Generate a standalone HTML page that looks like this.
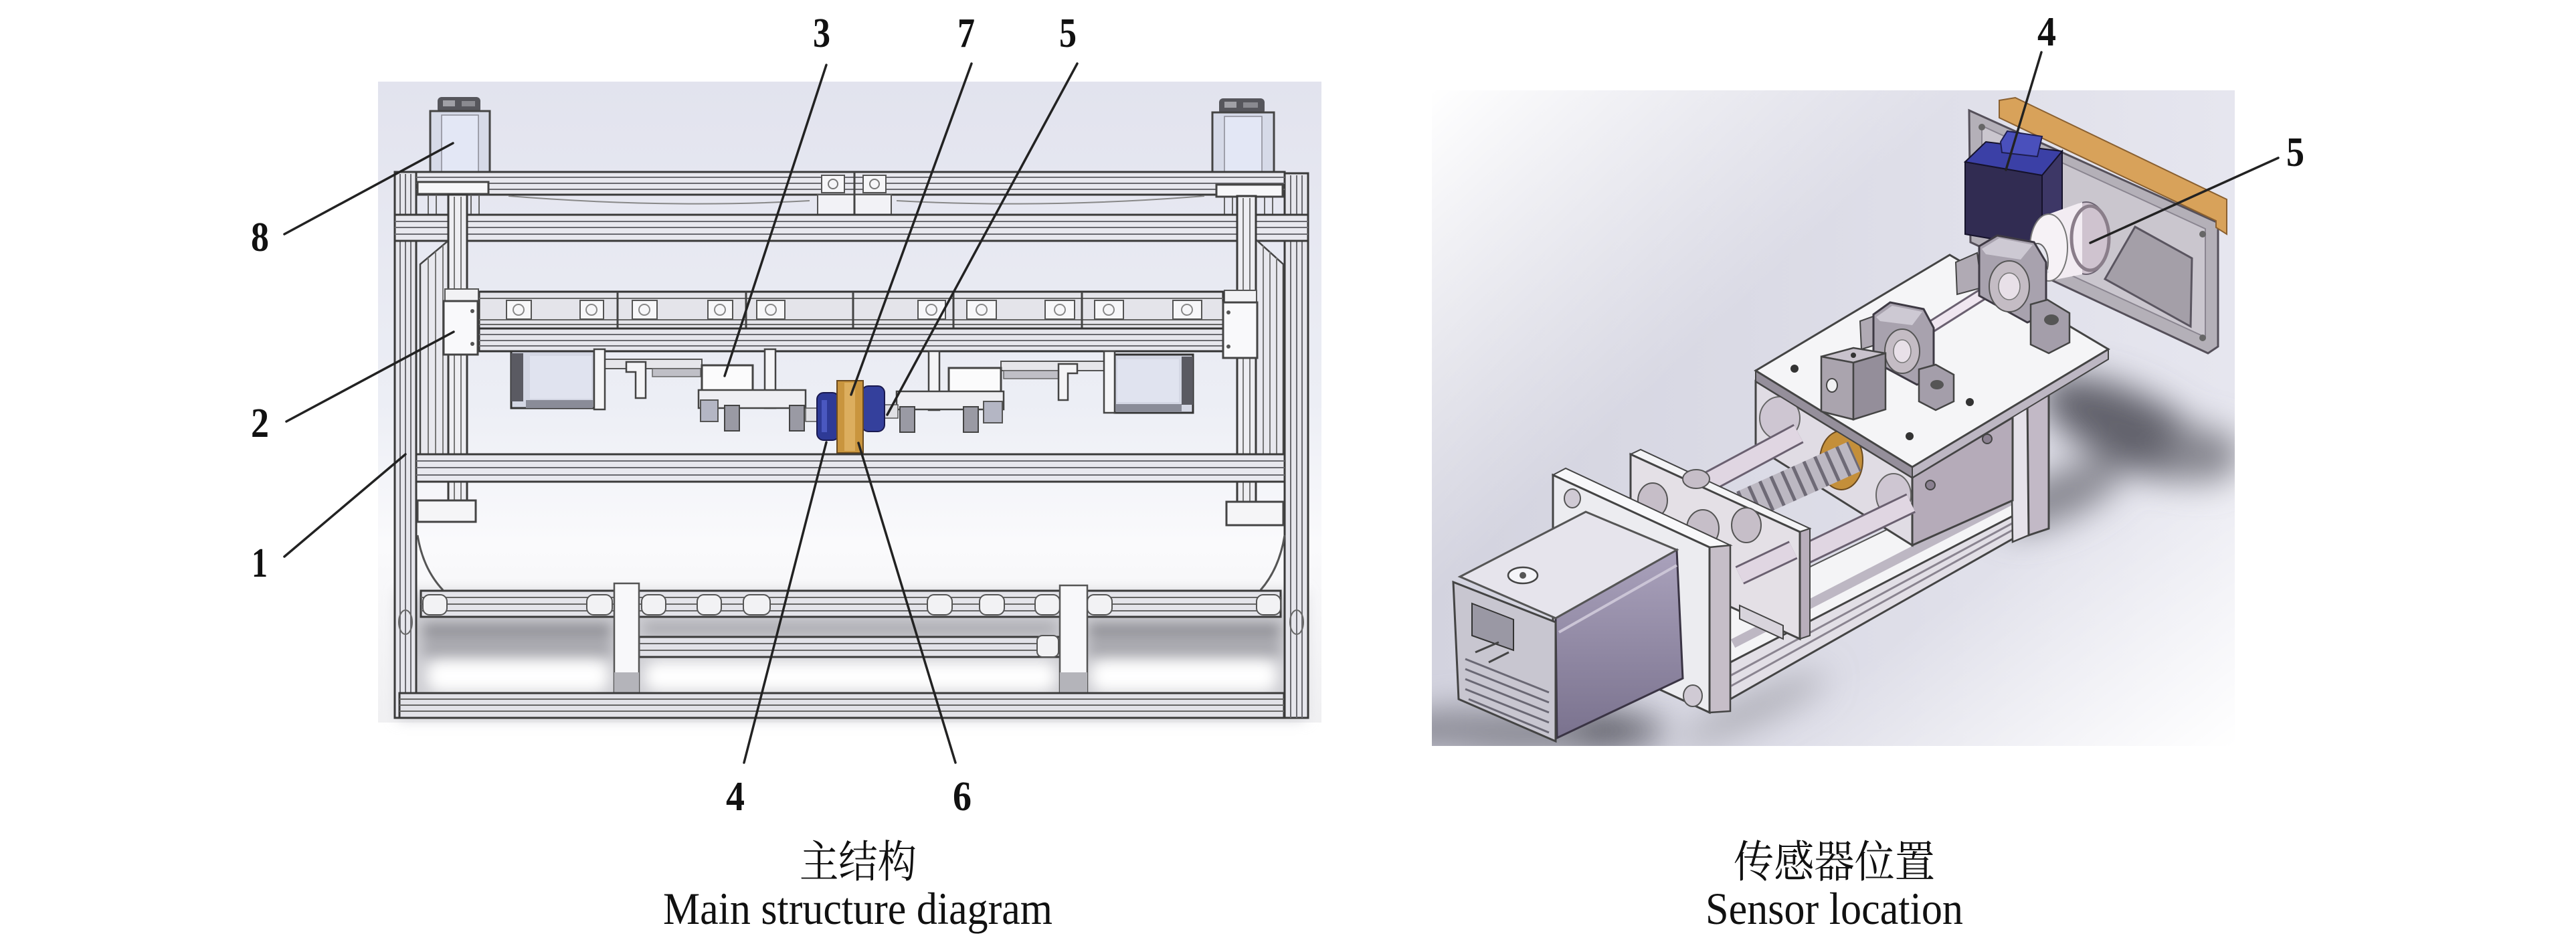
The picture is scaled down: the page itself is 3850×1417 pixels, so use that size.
<!DOCTYPE html>
<html><head><meta charset="utf-8"><style>html,body{margin:0;padding:0;background:#fff}svg{display:block}</style></head>
<body>
<svg xmlns="http://www.w3.org/2000/svg" width="3850" height="1417" viewBox="0 0 3850 1417">
<defs>
<linearGradient id="lbg" x1="0" y1="0" x2="0" y2="1">
<stop offset="0" stop-color="#e2e3ee"/><stop offset="0.5" stop-color="#eceef5"/><stop offset="0.72" stop-color="#fafafc"/><stop offset="1" stop-color="#f0f0f2"/>
</linearGradient>
<linearGradient id="rbase" x1="0" y1="0" x2="1" y2="0">
<stop offset="0" stop-color="#d3d3df"/><stop offset="1" stop-color="#e6e6ef"/>
</linearGradient>
<linearGradient id="rtl" x1="0" y1="0" x2="0.7" y2="0.6">
<stop offset="0" stop-color="#fff" stop-opacity="1"/><stop offset="0.55" stop-color="#fff" stop-opacity="0"/>
</linearGradient>
<linearGradient id="rbr" x1="1" y1="1" x2="0.55" y2="0.5">
<stop offset="0" stop-color="#fff" stop-opacity="1"/><stop offset="0.6" stop-color="#fff" stop-opacity="0"/>
</linearGradient>
<linearGradient id="mside" x1="0" y1="0" x2="0" y2="1">
<stop offset="0" stop-color="#aaa2bc"/><stop offset="1" stop-color="#7a728e"/>
</linearGradient>
<clipPath id="rclip"><rect x="2140" y="135" width="1200" height="980"/></clipPath>
<filter id="b25" x="-50%" y="-50%" width="200%" height="200%"><feGaussianBlur stdDeviation="25"/></filter>
<filter id="b10" x="-20%" y="-20%" width="140%" height="140%"><feGaussianBlur stdDeviation="10"/></filter>
</defs>
<rect width="3850" height="1417" fill="#fff"/>

<!-- ================= LEFT DRAWING ================= -->
<rect x="565" y="122" width="1410" height="958" fill="url(#lbg)"/>
<g filter="url(#b10)">
<rect x="595" y="885" width="1355" height="190" fill="#cfcfd4"/>
<rect x="630" y="930" width="285" height="25" fill="#8e8e94"/>
<rect x="630" y="962" width="285" height="18" fill="#9a9aa0"/>
<rect x="1625" y="930" width="290" height="25" fill="#8e8e94"/>
<rect x="1625" y="962" width="290" height="18" fill="#9a9aa0"/>
<rect x="960" y="930" width="620" height="18" fill="#a4a4aa"/>
<rect x="640" y="988" width="268" height="45" rx="18" fill="#fff"/>
<rect x="965" y="990" width="612" height="42" rx="18" fill="#fff"/>
<rect x="1632" y="988" width="275" height="45" rx="18" fill="#fff"/>
</g>

<!-- top motors -->
<rect x="654" y="145" width="64" height="24" rx="6" fill="#56565c"/>
<rect x="662" y="150" width="18" height="9" fill="#a0a0a6"/><rect x="690" y="151" width="20" height="8" fill="#8a8a90"/>
<rect x="643" y="166" width="89" height="100" fill="#d6dae8" stroke="#444" stroke-width="3"/>
<rect x="660" y="172" width="55" height="90" fill="#e3e7f5" stroke="#8a8a94" stroke-width="1.5"/>
<rect x="1822" y="147" width="68" height="24" rx="6" fill="#56565c"/>
<rect x="1830" y="152" width="18" height="9" fill="#a0a0a6"/><rect x="1858" y="153" width="22" height="8" fill="#8a8a90"/>
<rect x="1812" y="168" width="92" height="100" fill="#d6dae8" stroke="#444" stroke-width="3"/>
<rect x="1830" y="174" width="56" height="90" fill="#e3e7f5" stroke="#8a8a94" stroke-width="1.5"/>

<!-- outer posts -->
<g stroke="#3a3a3a" stroke-width="3" fill="#e6e6ec">
<rect x="590" y="257" width="32" height="816"/>
<rect x="1920" y="259" width="35" height="814"/>
</g>
<path d="M598 260V1073M606 260V1073M614 260V1073M1929 262V1073M1938 262V1073M1946 262V1073" stroke="#6a6a70" stroke-width="2"/>

<!-- top bar 1 -->
<rect x="622" y="257" width="1298" height="34" fill="#e8e8ee" stroke="#3a3a3a" stroke-width="3"/>
<path d="M622 265H1920M622 274H1920M622 283H1920" stroke="#6a6a70" stroke-width="2"/>
<rect x="1228" y="262" width="34" height="26" fill="#f6f6f8" stroke="#555" stroke-width="2"/><circle cx="1245" cy="275" r="7" fill="none" stroke="#777" stroke-width="2"/>
<rect x="1290" y="262" width="34" height="26" fill="#f6f6f8" stroke="#555" stroke-width="2"/><circle cx="1307" cy="275" r="7" fill="none" stroke="#777" stroke-width="2"/>
<rect x="1222" y="291" width="110" height="30" fill="#f2f2f6" stroke="#555" stroke-width="2"/>
<path d="M1277 257V321" stroke="#444" stroke-width="3"/>
<path d="M760 293 Q1000 312 1210 300 M1340 300 Q1560 312 1800 293" stroke="#888" stroke-width="2" fill="none"/>
<path d="M640 291V321M652 291V321M704 291V321M716 291V321M1830 291V321M1842 291V321M1890 291V321M1902 291V321" stroke="#666" stroke-width="2"/>
<rect x="624" y="272" width="106" height="18" fill="#f7f7f9" stroke="#444" stroke-width="3"/>
<rect x="1818" y="276" width="99" height="18" fill="#f7f7f9" stroke="#444" stroke-width="3"/>
<!-- top bar 2 -->
<rect x="590" y="321" width="1365" height="39" fill="#e8e8ee" stroke="#3a3a3a" stroke-width="3"/>
<path d="M590 331H1955M590 340H1955M590 350H1955" stroke="#6a6a70" stroke-width="2"/>

<!-- gussets -->
<polygon points="628,395 672,358 672,679 628,679" fill="#e8e8ee" stroke="#444" stroke-width="2.5"/>
<path d="M640 385V679M651 376V679M662 367V679" stroke="#777" stroke-width="2"/>
<polygon points="1877,358 1918,395 1918,679 1877,679" fill="#e8e8ee" stroke="#444" stroke-width="2.5"/>
<path d="M1888 367V679M1898 376V679M1908 385V679" stroke="#777" stroke-width="2"/>
<path d="M624 800 Q632 850 662 882 M1920 800 Q1912 850 1884 882" stroke="#555" stroke-width="3" fill="none"/>

<!-- inner posts -->
<g stroke="#3a3a3a" stroke-width="3" fill="#eeeef2">
<rect x="670" y="291" width="28" height="480"/>
<rect x="1849" y="293" width="28" height="478"/>
</g>
<path d="M679 294V770M689 294V770M1858 296V770M1868 296V770" stroke="#777" stroke-width="2"/>

<!-- middle rail -->
<rect x="716" y="436" width="1112" height="55" fill="#e4e4ea" stroke="#333" stroke-width="3"/>
<path d="M716 446H1828M716 478H1828M716 485H1828" stroke="#666" stroke-width="2"/>
<g fill="#f7f7f9" stroke="#555" stroke-width="2">
<rect x="757" y="449" width="37" height="28"/><rect x="867" y="449" width="35" height="28"/><rect x="945" y="449" width="37" height="28"/>
<rect x="1058" y="449" width="37" height="28"/><rect x="1131" y="449" width="42" height="28"/><rect x="1372" y="449" width="41" height="28"/>
<rect x="1445" y="449" width="44" height="28"/><rect x="1562" y="449" width="44" height="28"/><rect x="1636" y="449" width="43" height="28"/>
<rect x="1753" y="449" width="43" height="28"/>
</g>
<g fill="none" stroke="#888" stroke-width="2">
<circle cx="775" cy="463" r="8"/><circle cx="884" cy="463" r="8"/><circle cx="963" cy="463" r="8"/><circle cx="1076" cy="463" r="8"/><circle cx="1152" cy="463" r="8"/>
<circle cx="1392" cy="463" r="8"/><circle cx="1467" cy="463" r="8"/><circle cx="1584" cy="463" r="8"/><circle cx="1657" cy="463" r="8"/><circle cx="1774" cy="463" r="8"/>
</g>
<path d="M923 436V491M1115 436V491M1275 436V491M1425 436V491M1617 436V491" stroke="#444" stroke-width="3"/>
<rect x="716" y="491" width="1112" height="34" fill="#e6e6ec" stroke="#333" stroke-width="3"/>
<path d="M716 500H1828M716 509H1828M716 517H1828" stroke="#6a6a70" stroke-width="2"/>
<rect x="665" y="432" width="50" height="20" fill="#f2f2f4" stroke="#555" stroke-width="2"/>
<rect x="663" y="450" width="51" height="80" fill="#f9f9fb" stroke="#444" stroke-width="3"/>
<circle cx="706" cy="465" r="3" fill="#555"/><circle cx="706" cy="514" r="3" fill="#555"/>
<rect x="1830" y="434" width="48" height="20" fill="#f2f2f4" stroke="#555" stroke-width="2"/>
<rect x="1828" y="452" width="51" height="83" fill="#f9f9fb" stroke="#444" stroke-width="3"/>
<circle cx="1836" cy="467" r="3" fill="#555"/><circle cx="1836" cy="518" r="3" fill="#555"/>

<!-- mid motors -->
<rect x="764" y="525" width="124" height="85" fill="#d4d7e4" stroke="#333" stroke-width="3"/>
<rect x="764" y="528" width="18" height="72" fill="#5a5a62"/>
<rect x="792" y="532" width="92" height="64" fill="#e0e3ef"/>
<rect x="786" y="598" width="100" height="12" fill="#8a8c98"/>
<rect x="1666" y="530" width="117" height="87" fill="#d4d7e4" stroke="#333" stroke-width="3"/>
<rect x="1766" y="533" width="17" height="72" fill="#5a5a62"/>
<rect x="1670" y="537" width="92" height="64" fill="#e0e3ef"/>
<rect x="1668" y="604" width="98" height="12" fill="#8a8c98"/>
<rect x="904" y="537" width="145" height="14" fill="#e6e6ea" stroke="#555" stroke-width="2"/>
<rect x="975" y="551" width="72" height="12" fill="#bfbfc6" stroke="#666" stroke-width="1.5"/>
<path d="M936 541H965V595H950V556H936Z" fill="#f4f4f6" stroke="#444" stroke-width="2.5"/>
<rect x="1496" y="540" width="154" height="14" fill="#e6e6ea" stroke="#555" stroke-width="2"/>
<rect x="1500" y="554" width="85" height="12" fill="#bfbfc6" stroke="#666" stroke-width="1.5"/>
<path d="M1582 544H1610V558H1596V598H1582Z" fill="#f4f4f6" stroke="#444" stroke-width="2.5"/>
<g fill="#f5f5f7" stroke="#444" stroke-width="2.5">
<rect x="888" y="522" width="16" height="90"/><rect x="1650" y="525" width="16" height="92"/>
<rect x="1143" y="522" width="16" height="88"/><rect x="1388" y="525" width="16" height="88"/>
</g>
<rect x="1049" y="546" width="76" height="51" fill="#fbfbfc" stroke="#444" stroke-width="3"/>
<rect x="1418" y="550" width="78" height="47" fill="#fbfbfc" stroke="#444" stroke-width="3"/>
<rect x="1044" y="583" width="160" height="27" fill="#eeeef2" stroke="#444" stroke-width="2.5"/>
<rect x="1340" y="585" width="160" height="27" fill="#eeeef2" stroke="#444" stroke-width="2.5"/>
<rect x="1047" y="598" width="26" height="32" fill="#b4b6c4" stroke="#555" stroke-width="2"/>
<rect x="1470" y="600" width="28" height="32" fill="#b4b6c4" stroke="#555" stroke-width="2"/>
<g fill="#9a9aa4" stroke="#444" stroke-width="2">
<rect x="1083" y="606" width="22" height="38"/><rect x="1180" y="606" width="22" height="38"/>
<rect x="1345" y="608" width="22" height="38"/><rect x="1440" y="608" width="22" height="38"/>
</g>
<rect x="1204" y="610" width="18" height="20" fill="#e0e0e4" stroke="#555" stroke-width="1.5"/>
<rect x="1322" y="605" width="20" height="20" fill="#e0e0e4" stroke="#555" stroke-width="1.5"/>
<rect x="1221" y="587" width="33" height="71" rx="10" fill="#2e3a96" stroke="#1a1a50" stroke-width="2"/>
<rect x="1228" y="598" width="8" height="48" fill="#4a58c0"/>
<rect x="1288" y="577" width="34" height="68" rx="10" fill="#34409c" stroke="#1a1a50" stroke-width="2"/>
<rect x="1251" y="569" width="39" height="108" fill="#c9953e" stroke="#6a4a20" stroke-width="2"/>
<rect x="1262" y="572" width="16" height="102" fill="#dcae5e"/>

<!-- lower beam -->
<rect x="622" y="679" width="1298" height="41" fill="#e8e8ee" stroke="#3a3a3a" stroke-width="3"/>
<path d="M622 689H1920M622 699H1920M622 710H1920" stroke="#6a6a70" stroke-width="2"/>
<rect x="624" y="748" width="87" height="32" fill="#f5f5f7" stroke="#444" stroke-width="3"/>
<rect x="1833" y="750" width="85" height="35" fill="#f5f5f7" stroke="#444" stroke-width="3"/>

<!-- bottom frame -->
<rect x="629" y="883" width="1285" height="39" fill="#e4e4ea" stroke="#3a3a3a" stroke-width="3"/>
<path d="M629 893H1914M629 903H1914M629 913H1914" stroke="#666" stroke-width="2"/>
<g fill="#f2f2f4" stroke="#555" stroke-width="2">
<rect x="632" y="889" width="36" height="30" rx="10"/><rect x="877" y="889" width="38" height="30" rx="10"/><rect x="959" y="889" width="36" height="30" rx="10"/>
<rect x="1042" y="889" width="36" height="30" rx="10"/><rect x="1111" y="889" width="40" height="30" rx="10"/><rect x="1386" y="889" width="37" height="30" rx="10"/>
<rect x="1464" y="889" width="37" height="30" rx="10"/><rect x="1547" y="889" width="37" height="30" rx="10"/><rect x="1625" y="889" width="37" height="30" rx="10"/>
<rect x="1878" y="889" width="36" height="30" rx="10"/>
</g>
<rect x="955" y="952" width="629" height="30" fill="#e2e2e8" stroke="#3a3a3a" stroke-width="3"/>
<path d="M955 962H1584M955 972H1584" stroke="#666" stroke-width="2"/>
<rect x="1550" y="950" width="32" height="32" rx="8" fill="#f2f2f4" stroke="#555" stroke-width="2"/>
<rect x="918" y="872" width="37" height="164" fill="#f8f8fa" stroke="#555" stroke-width="2.5"/>
<rect x="918" y="1005" width="37" height="31" fill="#b4b4ba"/>
<rect x="1584" y="875" width="41" height="161" fill="#f8f8fa" stroke="#555" stroke-width="2.5"/>
<rect x="1584" y="1005" width="41" height="31" fill="#b4b4ba"/>
<rect x="597" y="1036" width="1322" height="37" fill="#e2e2e8" stroke="#3a3a3a" stroke-width="3"/>
<path d="M597 1045H1919M597 1054H1919M597 1063H1919" stroke="#666" stroke-width="2"/>
<ellipse cx="606" cy="930" rx="10" ry="18" fill="none" stroke="#666" stroke-width="2"/>
<ellipse cx="1938" cy="930" rx="10" ry="18" fill="none" stroke="#666" stroke-width="2"/>

<!-- left leader lines -->
<g stroke="#222" stroke-width="3.5" stroke-linecap="round">
<line x1="425" y1="350" x2="677" y2="214"/>
<line x1="428" y1="630" x2="678" y2="496"/>
<line x1="425" y1="832" x2="606" y2="679"/>
<line x1="1235" y1="97" x2="1083" y2="562"/>
<line x1="1452" y1="95" x2="1272" y2="590"/>
<line x1="1610" y1="95" x2="1326" y2="620"/>
<line x1="1235" y1="661" x2="1112" y2="1140"/>
<line x1="1283" y1="662" x2="1428" y2="1140"/>
</g>

<!-- ================= RIGHT DRAWING ================= -->
<rect x="2140" y="135" width="1200" height="980" fill="url(#rbase)"/>
<rect x="2140" y="135" width="1200" height="980" fill="url(#rtl)"/>
<rect x="2140" y="135" width="1200" height="980" fill="url(#rbr)"/>
<g clip-path="url(#rclip)">
<g filter="url(#b25)">
<ellipse cx="3180" cy="640" rx="140" ry="55" transform="rotate(25 3180 640)" fill="#62626c"/>
<ellipse cx="3080" cy="740" rx="100" ry="35" transform="rotate(-25 3080 740)" fill="#85858e"/>
<ellipse cx="3290" cy="680" rx="60" ry="40" fill="#85858e"/>
<ellipse cx="2290" cy="1092" rx="200" ry="32" fill="#55555e"/>
<rect x="2140" y="1060" width="220" height="55" fill="#8a8a94"/>
<ellipse cx="2620" cy="1060" rx="120" ry="18" transform="rotate(-25 2620 1060)" fill="#a4a4ac"/>
</g>
</g>

<!-- back plate -->
<polygon points="2943,165 3315,333 3315,518 3300,528 2945,362" fill="#b4b0b8" stroke="#55505a" stroke-width="3"/>
<polygon points="2962,188 3296,342 3296,504 2962,350" fill="#cac6ce" stroke="#8a8590" stroke-width="2"/>
<polygon points="3191,339 3276,386 3274,488 3146,417" fill="#a49fa8" stroke="#5a5560" stroke-width="3"/>
<circle cx="2962" cy="190" r="5" fill="#666"/><circle cx="3292" cy="505" r="5" fill="#666"/><circle cx="3292" cy="350" r="5" fill="#666"/>
<polygon points="2988,150 3012,146 3328,298 3328,350 3312,340 3312,330 2988,176" fill="#d8a25a" stroke="#8a6030" stroke-width="2"/>

<!-- sensor -->
<polygon points="2937,242 3052,262 3052,370 2937,350" fill="#312c52" stroke="#15122a" stroke-width="2"/>
<polygon points="3052,262 3082,226 3082,345 3052,370" fill="#3d3766" stroke="#15122a" stroke-width="2"/>
<polygon points="2937,242 2968,212 3082,226 3052,262" fill="#3b40a6" stroke="#15122a" stroke-width="2"/>
<polygon points="2990,212 3000,196 3052,204 3045,234 2992,228" fill="#4a50bc" stroke="#1e1e50" stroke-width="2"/>

<!-- coupling -->
<ellipse cx="3118" cy="356" rx="34" ry="54" fill="#cfc3cf" stroke="#6a6270" stroke-width="2"/>
<polygon points="3062,320 3112,302 3112,410 3062,420" fill="#f2ecf2"/>
<ellipse cx="3062" cy="370" rx="28" ry="50" fill="#f6f2f6" stroke="#777" stroke-width="2"/>
<ellipse cx="3124" cy="356" rx="28" ry="48" fill="none" stroke="#8a7e8a" stroke-width="5"/>
<ellipse cx="3045" cy="392" rx="16" ry="28" fill="#e6e6ee" stroke="#666" stroke-width="2"/>

<!-- rail base -->
<polygon points="2586,905 3030,690 3030,760 2586,990" fill="#f4f4f6" stroke="#555" stroke-width="2"/>
<polygon points="2586,990 3030,760 3030,793 2586,1045" fill="#e2dfe6" stroke="#444" stroke-width="3"/>
<path d="M2586 1010L3030 770M2586 1026L3030 780" stroke="#8a8490" stroke-width="3"/>
<path d="M2590 962L3023 739" stroke="#bdb7c3" stroke-width="14"/>
<polygon points="3005,618 3030,600 3032,800 3008,810" fill="#e6e2ea" stroke="#444" stroke-width="2.5"/>
<polygon points="3030,600 3062,590 3062,790 3032,800" fill="#c2b9c6" stroke="#444" stroke-width="3"/>

<!-- carriage box -->
<polygon points="2858,714 3008,624 3008,748 2858,815" fill="#b5abb9" stroke="#444" stroke-width="3"/>
<circle cx="2885" cy="725" r="7" fill="#8a8090" stroke="#444" stroke-width="2"/><circle cx="2970" cy="656" r="7" fill="#8a8090" stroke="#444" stroke-width="2"/>
<polygon points="2624,570 2858,714 2858,815 2624,668" fill="#e0dce4" stroke="#444" stroke-width="3"/>
<ellipse cx="2660" cy="625" rx="30" ry="32" fill="#cec6d2" stroke="#666" stroke-width="2"/>
<ellipse cx="2830" cy="740" rx="26" ry="32" fill="#cec6d2" stroke="#666" stroke-width="2"/>
<ellipse cx="2752" cy="688" rx="32" ry="44" fill="#c48f3a" stroke="#6a4a20" stroke-width="2"/>

<!-- top plate -->
<polygon points="2624,554 2858,698 2858,714 2624,570" fill="#958f9b" stroke="#444" stroke-width="2"/>
<polygon points="2858,698 3151,522 3151,537 2858,714" fill="#bdb7c3" stroke="#444" stroke-width="2"/>
<polygon points="2914,381 3151,522 2858,698 2624,554" fill="#f5f5f7" stroke="#444" stroke-width="3"/>
<circle cx="2682" cy="551" r="6" fill="#333"/><circle cx="2944" cy="601" r="6" fill="#333"/><circle cx="2854" cy="652" r="6" fill="#333"/>

<!-- shaft -->
<line x1="2860" y1="505" x2="3010" y2="410" stroke="#6a6070" stroke-width="19"/>
<line x1="2860" y1="505" x2="3010" y2="410" stroke="#efe6f0" stroke-width="13"/>
<line x1="3030" y1="408" x2="3055" y2="394" stroke="#d8d8e0" stroke-width="30"/>

<!-- right pillow block -->
<polygon points="2923,392 2955,378 2962,430 2925,440" fill="#b0aab4" stroke="#444" stroke-width="2"/>
<polygon points="2958,368 2985,352 3040,362 3058,392 3058,470 3030,482 2958,442" fill="#a8a2ae" stroke="#3e3a44" stroke-width="3"/>
<polygon points="2962,372 2988,356 3038,366 3020,388 2968,380" fill="#cdc9d3"/>
<ellipse cx="3003" cy="428" rx="30" ry="38" fill="#c4bcc4" stroke="#555" stroke-width="2"/>
<ellipse cx="3003" cy="428" rx="16" ry="20" fill="#e8e0e8" stroke="#777" stroke-width="1.5"/>
<polygon points="3035,455 3060,448 3093,468 3093,512 3062,528 3035,515" fill="#a49eaa" stroke="#444" stroke-width="2.5"/>
<ellipse cx="3066" cy="478" rx="11" ry="8" fill="#555"/>

<!-- left pillow block -->
<polygon points="2780,480 2802,472 2805,515 2782,522" fill="#b0aab4" stroke="#444" stroke-width="2"/>
<polygon points="2800,470 2825,452 2875,462 2890,490 2890,565 2865,575 2800,540" fill="#a8a2ae" stroke="#3e3a44" stroke-width="3"/>
<polygon points="2804,474 2828,457 2873,466 2858,486 2810,480" fill="#cdc9d3"/>
<ellipse cx="2843" cy="525" rx="26" ry="33" fill="#c4bcc4" stroke="#555" stroke-width="2"/>
<ellipse cx="2843" cy="525" rx="13" ry="17" fill="#e8e0e8" stroke="#777" stroke-width="1.5"/>
<polygon points="2868,552 2893,545 2920,560 2920,600 2893,613 2868,600" fill="#a49eaa" stroke="#444" stroke-width="2.5"/>
<ellipse cx="2895" cy="575" rx="10" ry="7" fill="#555"/>

<!-- cube support -->
<polygon points="2722,533 2770,520 2818,528 2770,542" fill="#c8c2cc" stroke="#444" stroke-width="2.5"/>
<polygon points="2722,533 2770,542 2770,627 2722,615" fill="#aaa4ae" stroke="#444" stroke-width="2.5"/>
<polygon points="2770,542 2818,528 2818,612 2770,627" fill="#948e9a" stroke="#444" stroke-width="2.5"/>
<ellipse cx="2738" cy="576" rx="8" ry="10" fill="#f0f0f2" stroke="#444" stroke-width="2"/>
<circle cx="2770" cy="531" r="4" fill="#333"/>

<!-- rods & leadscrew -->
<line x1="2550" y1="722" x2="2688" y2="648" stroke="#6a6070" stroke-width="32"/>
<line x1="2550" y1="722" x2="2688" y2="648" stroke="#e0d6e2" stroke-width="26"/>
<line x1="2590" y1="880" x2="2856" y2="752" stroke="#6a6070" stroke-width="32"/>
<line x1="2590" y1="880" x2="2856" y2="752" stroke="#e0d6e2" stroke-width="26"/>
<line x1="2605" y1="757" x2="2772" y2="682" stroke="#bcb8c2" stroke-width="48"/>
<line x1="2605" y1="757" x2="2772" y2="682" stroke="#6e6a76" stroke-width="48" stroke-dasharray="5 13"/>

<!-- plate B -->
<polygon points="2437,679 2452,672 2705,790 2690,795" fill="#f4f4f6" stroke="#444" stroke-width="2"/>
<polygon points="2690,795 2705,790 2705,950 2690,955" fill="#b8aebb" stroke="#444" stroke-width="2"/>
<polygon points="2437,679 2690,795 2690,955 2437,838" fill="#e4e0e6" stroke="#444" stroke-width="3"/>
<ellipse cx="2470" cy="748" rx="22" ry="26" fill="#c6bec8" stroke="#555" stroke-width="2"/>
<ellipse cx="2535" cy="716" rx="20" ry="14" fill="#c6bec8" stroke="#555" stroke-width="2"/>
<ellipse cx="2610" cy="785" rx="22" ry="26" fill="#c6bec8" stroke="#555" stroke-width="2"/>
<ellipse cx="2545" cy="790" rx="24" ry="28" fill="#c6bec8" stroke="#555" stroke-width="2"/>
<line x1="2600" y1="860" x2="2680" y2="822" stroke="#6a6070" stroke-width="30"/>
<line x1="2600" y1="860" x2="2680" y2="822" stroke="#e0d6e2" stroke-width="24"/>
<polygon points="2600,905 2665,935 2665,955 2600,925" fill="#d8d4dc" stroke="#444" stroke-width="2"/>

<!-- plate A -->
<polygon points="2321,710 2340,700 2586,815 2555,818" fill="#f8f8fa" stroke="#444" stroke-width="2"/>
<polygon points="2555,818 2586,815 2586,1063 2555,1065" fill="#c6bec8" stroke="#444" stroke-width="2.5"/>
<polygon points="2321,710 2555,818 2555,1065 2321,957" fill="#ececf0" stroke="#444" stroke-width="3"/>
<ellipse cx="2530" cy="1040" rx="14" ry="16" fill="#d0cad4" stroke="#555" stroke-width="2"/>
<ellipse cx="2350" cy="745" rx="12" ry="14" fill="#d0cad4" stroke="#555" stroke-width="2"/>

<!-- motor -->
<polygon points="2325,924 2506,822 2515,1014 2327,1103" fill="url(#mside)" stroke="#3a3444" stroke-width="3"/>
<path d="M2330 945L2506 845" stroke="#cbc5d6" stroke-width="4"/>
<polygon points="2182,862 2325,924 2506,822 2370,765" fill="#e6e4ec" stroke="#555" stroke-width="3"/>
<ellipse cx="2276" cy="860" rx="22" ry="12" fill="#f4f4f8" stroke="#444" stroke-width="2.5"/>
<circle cx="2276" cy="860" r="5" fill="#555"/>
<polygon points="2172,870 2325,930 2325,1108 2180,1045" fill="#c8c6d0" stroke="#444" stroke-width="3"/>
<polygon points="2200,902 2262,926 2262,972 2200,950" fill="#9a98a4" stroke="#333" stroke-width="2"/>
<path d="M2190 985L2315 1035M2190 1000L2315 1050M2190 1015L2315 1065M2190 1030L2315 1080M2195 1045L2315 1095" stroke="#6a6874" stroke-width="3"/>
<path d="M2205 975L2240 960M2225 990L2255 975" stroke="#444" stroke-width="3"/>

<!-- right leader lines -->
<g stroke="#222" stroke-width="3.5" stroke-linecap="round">
<line x1="3051" y1="78" x2="2998" y2="254"/>
<line x1="3405" y1="236" x2="3124" y2="363"/>
</g>

<!-- ================= LABELS ================= -->
<g font-family="'Liberation Serif', serif" font-size="62" font-weight="bold" fill="#111">
<text x="1215" y="70" textLength="26" lengthAdjust="spacingAndGlyphs">3</text>
<text x="1431" y="70" textLength="26" lengthAdjust="spacingAndGlyphs">7</text>
<text x="1583" y="70" textLength="26" lengthAdjust="spacingAndGlyphs">5</text>
<text x="375" y="375" textLength="27" lengthAdjust="spacingAndGlyphs">8</text>
<text x="375" y="653" textLength="27" lengthAdjust="spacingAndGlyphs">2</text>
<text x="376" y="862" textLength="24" lengthAdjust="spacingAndGlyphs">1</text>
<text x="1085" y="1211" textLength="28" lengthAdjust="spacingAndGlyphs">4</text>
<text x="1424" y="1211" textLength="28" lengthAdjust="spacingAndGlyphs">6</text>
<text x="3045" y="68" textLength="28" lengthAdjust="spacingAndGlyphs">4</text>
<text x="3417" y="248" textLength="27" lengthAdjust="spacingAndGlyphs">5</text>
</g>
<g font-family="'Liberation Serif', 'Noto Serif CJK SC', serif" fill="#111">
<text x="1195" y="1311" font-size="66" textLength="175" lengthAdjust="spacingAndGlyphs">主结构</text>
<text x="2591" y="1311" font-size="66" textLength="301" lengthAdjust="spacingAndGlyphs">传感器位置</text>
<text x="991" y="1381" font-size="68" textLength="582" lengthAdjust="spacingAndGlyphs">Main structure diagram</text>
<text x="2549" y="1381" font-size="68" textLength="385" lengthAdjust="spacingAndGlyphs">Sensor location</text>
</g>
</svg>
</body></html>
